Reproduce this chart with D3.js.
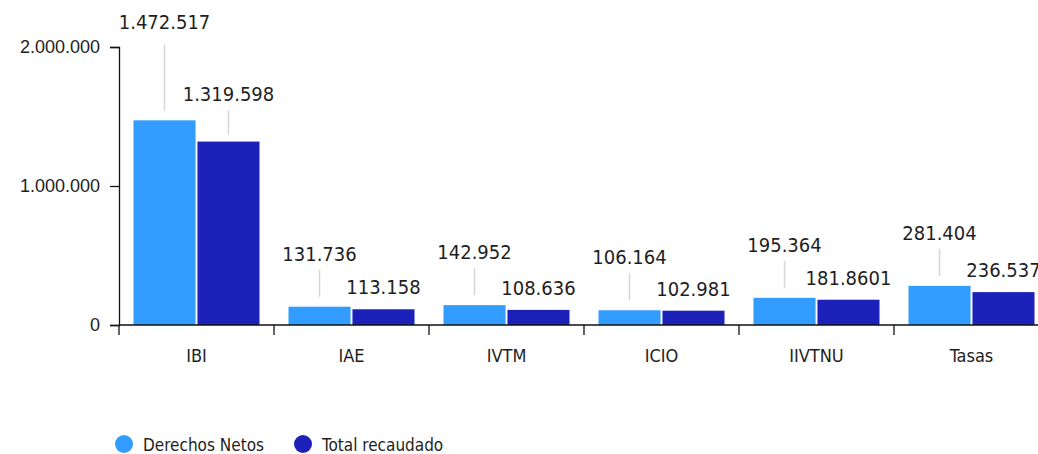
<!DOCTYPE html>
<html lang="es">
<head>
<meta charset="utf-8">
<script src="https://cdn.jsdelivr.net/npm/d3@7"></script>
<style>
  html, body { margin: 0; padding: 0; background: #fff; }
  svg { display: block; font-family: "DejaVu Sans Condensed", "DejaVu Sans", sans-serif; font-stretch: condensed; }
</style>
</head>
<body>
<svg id="chart" width="1038" height="454"></svg>
<script>
// Ingresos tributarios: derechos netos frente a total recaudado
const categories = ["IBI", "IAE", "IVTM", "ICIO", "IIVTNU", "Tasas"];
const derechosNetos = [1472517, 131736, 142952, 106164, 195364, 281404];
const totalRecaudado = [1319598, 113158, 108636, 102981, 181860.1, 236537];
const seriesNames = ["Derechos Netos", "Total recaudado"];
const yTicks = [0, 1000000, 2000000];

const colors = ["#339cff", "#1c22b9"];
const textColor = "#1e1e1e";

const svg = d3.select("#chart");

const x0 = d3.scaleBand().domain(categories).range([119, 1049]).padding(0);
const x1 = d3.scaleBand().domain(seriesNames)
  .range([14.5, x0.bandwidth() - 14.5]).paddingInner(0.03);
const y = d3.scaleLinear().domain([0, 2000000]).range([325, 47]);

// Spanish-style number grouping: dots as thousands separators
const group = v => String(Math.trunc(v)).replace(/\B(?=(\d{3})+(?!\d))/g, ".");
const fmtLabel = v => {
  const parts = String(v).split(".");
  return group(v) + (parts[1] || "");
};

// Bars
const rows = categories.map((c, i) => ({ cat: c, vals: [derechosNetos[i], totalRecaudado[i]] }));
const groups = svg.append("g").selectAll("g").data(rows).join("g")
  .attr("transform", d => `translate(${x0(d.cat)},0)`);
groups.selectAll("rect")
  .data(d => d.vals.map((v, k) => ({ v, k })))
  .join("rect")
  .attr("x", d => x1(seriesNames[d.k]))
  .attr("width", x1.bandwidth())
  .attr("y", d => y(d.v))
  .attr("height", d => y(0) - y(d.v))
  .attr("fill", d => colors[d.k]);

// Y axis
const yAxis = svg.append("g").attr("transform", "translate(119,0)")
  .call(d3.axisLeft(y).tickValues(yTicks).tickSize(9).tickPadding(10).tickFormat(group));
yAxis.select(".domain").attr("stroke", "#111").attr("stroke-width", 1.3);
yAxis.selectAll(".tick line").attr("stroke", "#111").attr("stroke-width", 1.3);
yAxis.selectAll(".tick text").attr("fill", textColor)
  .style("font-size", "18px").style("font-family", null);

// X axis with boundary ticks between categories
const xAxisG = svg.append("g").attr("transform", `translate(0,${y(0)})`);
xAxisG.append("line").attr("x1", 119).attr("x2", 1049).attr("stroke", "#111").attr("stroke-width", 1.3);
xAxisG.selectAll("line.sep").data(categories).join("line").attr("class", "sep")
  .attr("x1", d => x0(d)).attr("x2", d => x0(d))
  .attr("y1", 0).attr("y2", 10).attr("stroke", "#111").attr("stroke-width", 1.3);
xAxisG.selectAll("text").data(categories).join("text")
  .attr("x", d => x0(d) + x0.bandwidth() / 2).attr("y", 37)
  .attr("text-anchor", "middle").attr("fill", textColor)
  .style("font-size", "18px").text(d => d);

// Value labels with leader lines
const labels = svg.append("g").style("font-size", "20px").attr("fill", textColor);
const leaders = svg.append("g").attr("stroke", "#d6d6d6").attr("stroke-width", 1.5);

rows.forEach(r => {
  const lx = x0(r.cat) + x1(seriesNames[0]) + x1.bandwidth() / 2;
  const dx = x0(r.cat) + x1(seriesNames[1]) + x1.bandwidth() / 2;
  const lightRight = x0(r.cat) + x1(seriesNames[0]) + x1.bandwidth();
  const lt = y(r.vals[0]);
  const dt = y(r.vals[1]);

  const darkText = labels.append("text").attr("text-anchor", "middle").attr("x", dx)
    .text(fmtLabel(r.vals[1]));
  const w = darkText.node().getComputedTextLength();
  let darkBase = dt - 15;
  let lifted = false;
  if (dx - w / 2 < lightRight && darkBase > lt - 4) {
    darkBase = lt - 19;
    lifted = true;
    leaders.append("line").attr("x1", dx).attr("x2", dx)
      .attr("y1", darkBase + 9).attr("y2", dt - 7);
  }
  darkText.attr("y", darkBase);

  const lightBase = lifted ? darkBase - 72 : lt - 46;
  labels.append("text").attr("text-anchor", "middle").attr("x", lx).attr("y", lightBase)
    .text(fmtLabel(r.vals[0]));
  leaders.append("line").attr("x1", lx).attr("x2", lx)
    .attr("y1", lightBase + (lifted ? 15 : 9)).attr("y2", lt - 10);
});

// Legend
const legend = svg.append("g").selectAll("g").data(seriesNames).join("g")
  .attr("transform", (d, i) => `translate(${124 + i * 179},444)`);
legend.append("circle").attr("r", 9).attr("fill", (d, i) => colors[i]);
legend.append("text").attr("x", 19).attr("y", 7).attr("fill", textColor)
  .style("font-size", "17px").text(d => d);
</script>
</body>
</html>
